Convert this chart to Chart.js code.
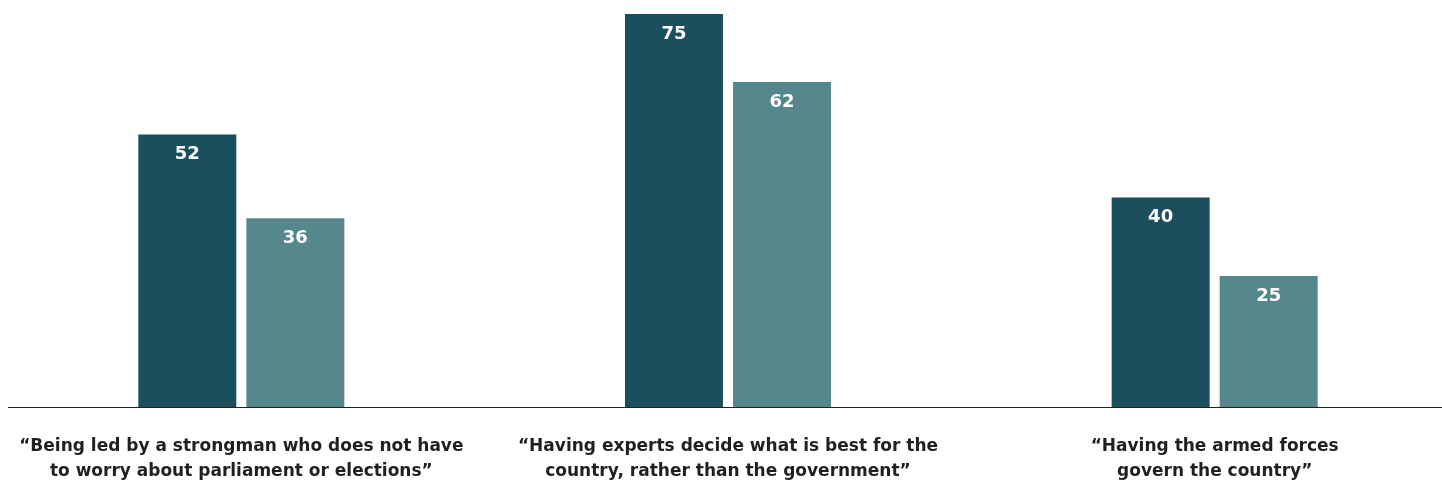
<!DOCTYPE html>
<html>
<head>
<meta charset="utf-8">
<script src="https://cdn.jsdelivr.net/npm/chart.js@4.4.1/dist/chart.umd.min.js"></script>
<style>
  html, body { margin: 0; padding: 0; background: #fff; overflow: hidden; }
  #wrap { position: absolute; left: -2px; top: 0; width: 1460px; height: 485px; }
</style>
</head>
<body>
<div id="wrap"><canvas id="chart" width="1460" height="485"></canvas></div>
<script>
// категории и значения
const categories = [
  ['\u201cBeing led by a strongman who does not have', 'to worry about parliament or elections\u201d'],
  ['\u201cHaving experts decide what is best for the', 'country, rather than the government\u201d'],
  ['\u201cHaving the armed forces', 'govern the country\u201d']
];
const seriesA = [52, 75, 40];
const seriesB = [36, 62, 25];
const colorA = '#1b4f5e';
const colorB = '#55878c';

// подписи значений внутри столбцов
const valueLabels = {
  id: 'valueLabels',
  afterDatasetsDraw(chart) {
    const ctx = chart.ctx;
    ctx.save();
    ctx.fillStyle = '#ffffff';
    ctx.font = 'bold 18px "DejaVu Sans"';
    ctx.textAlign = 'center';
    ctx.textBaseline = 'middle';
    chart.data.datasets.forEach((ds, i) => {
      chart.getDatasetMeta(i).data.forEach((bar, j) => {
        ctx.fillText(ds.data[j], bar.x, bar.y + 20);
      });
    });
    ctx.restore();
  }
};

// базовая линия
const baseLine = {
  id: 'baseLine',
  afterDatasetsDraw(chart) {
    const ctx = chart.ctx;
    const y = chart.chartArea.bottom + 0.5;
    ctx.save();
    ctx.strokeStyle = '#231f20';
    ctx.lineWidth = 1.2;
    ctx.beginPath();
    ctx.moveTo(10, y);
    ctx.lineTo(chart.width, y);
    ctx.stroke();
    ctx.restore();
  }
};

new Chart(document.getElementById('chart'), {
  type: 'bar',
  data: {
    labels: categories,
    datasets: [
      { data: seriesA, backgroundColor: colorA, categoryPercentage: 0.444, barPercentage: 0.907 },
      { data: seriesB, backgroundColor: colorB, categoryPercentage: 0.444, barPercentage: 0.907 }
    ]
  },
  options: {
    responsive: false,
    animation: false,
    layout: { padding: { top: 14, left: 0, right: 0, bottom: 0 } },
    plugins: { legend: { display: false }, tooltip: { enabled: false } },
    scales: {
      y: { display: false, min: 0, max: 75 },
      x: {
        grid: { display: false, drawTicks: false },
        border: { display: false },
        ticks: {
          color: '#231f20',
          font: { family: '"DejaVu Sans"', size: 17, weight: 'bold', lineHeight: 25 / 17 },
          padding: 27,
          maxRotation: 0,
          autoSkip: false
        },
        afterFit(scale) {
          scale.height = 78;
          scale.paddingLeft = 0;
          scale.paddingRight = 0;
        }
      }
    }
  },
  plugins: [valueLabels, baseLine]
});
</script>
</body>
</html>
